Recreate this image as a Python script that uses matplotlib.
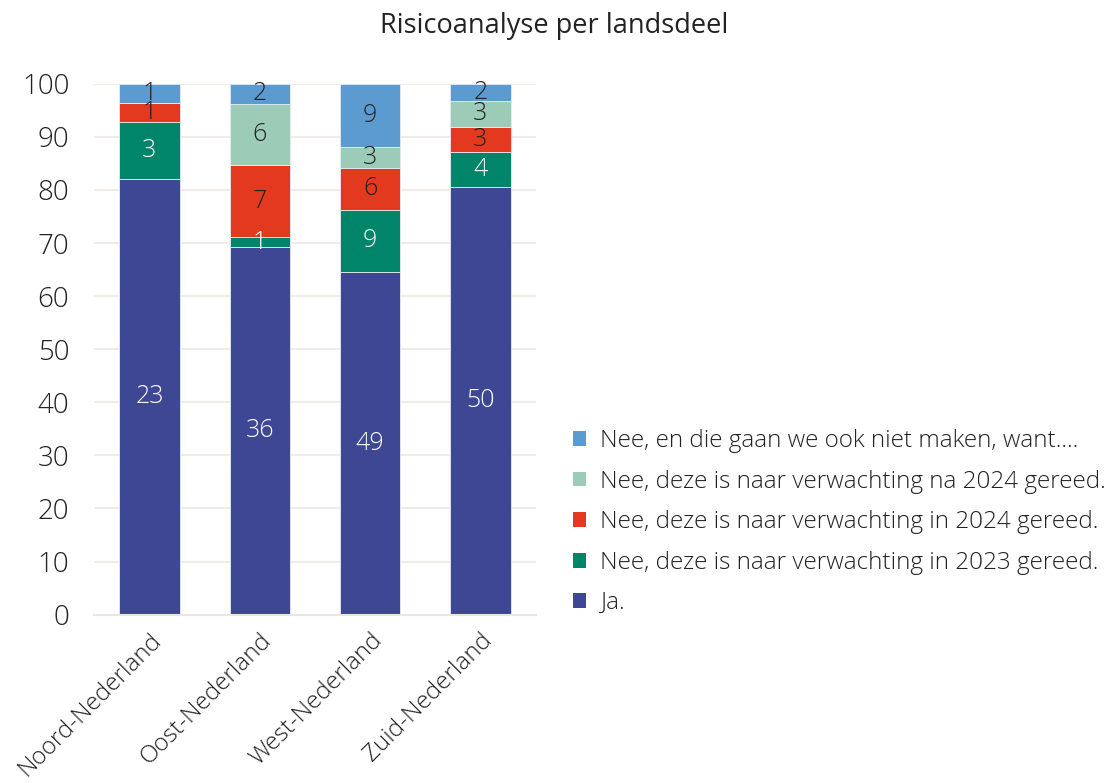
import matplotlib.pyplot as plt
from matplotlib.patches import Patch
import numpy as np

plt.rcParams['font.family'] = ['Open Sans', 'DejaVu Sans']
plt.rcParams['font.weight'] = 'light'

regions = ['Noord-Nederland', 'Oost-Nederland', 'West-Nederland', 'Zuid-Nederland']
series = [
    'Ja.',
    'Nee, deze is naar verwachting in 2023 gereed.',
    'Nee, deze is naar verwachting in 2024 gereed.',
    'Nee, deze is naar verwachting na 2024 gereed.',
    'Nee, en die gaan we ook niet maken, want....',
]
ja = [23, 36, 49, 50]
nee_2023 = [3, 1, 9, 4]
nee_2024 = [1, 7, 6, 3]
nee_na_2024 = [0, 6, 3, 3]
nee_nooit = [1, 2, 9, 2]

colors = ['#3d4794', '#00846a', '#e33a1f', '#9ccbb8', '#5b9bd0']
label_colors = ['white', 'white', '#222222', '#222222', '#222222']
text_color = '#222222'

counts = np.array([ja, nee_2023, nee_2024, nee_na_2024, nee_nooit], dtype=float)
pct = counts / counts.sum(axis=0) * 100

fig = plt.figure(figsize=(11.09, 7.83), dpi=100)
ax = fig.add_axes([0.085, 0.215, 0.398, 0.678])

x = np.arange(len(regions))
bottom = np.zeros(len(regions))
for i, name in enumerate(series):
    ax.bar(x, pct[i], 0.545, bottom=bottom, color=colors[i],
           edgecolor='#e8eaf2', linewidth=0.6, zorder=2)
    for j in range(len(regions)):
        if counts[i, j] > 0:
            ax.text(x[j], bottom[j] + pct[i, j] / 2, f'{int(counts[i, j])}',
                    ha='center', va='center', fontsize=18,
                    color=label_colors[i], zorder=3)
    bottom += pct[i]

ax.set_xlim(-0.5, 3.5)
ax.set_ylim(0, 100)
ax.set_yticks(range(0, 101, 10))
ax.yaxis.grid(True, color='#f0ede8', linewidth=1.5, zorder=0)
ax.set_axisbelow(True)
for s in ['top', 'right', 'left']:
    ax.spines[s].set_visible(False)
ax.spines['bottom'].set_color('#ece6e2')
ax.spines['bottom'].set_linewidth(1.5)
ax.tick_params(axis='y', length=0, labelsize=20, colors=text_color, pad=18)
ax.tick_params(axis='x', length=0, colors=text_color, pad=10)
ax.set_xticks(x)
ax.set_xticklabels(regions, rotation=45, ha='right', rotation_mode='anchor',
                   fontsize=17.5)

handles = [Patch(facecolor=colors[i], label=series[i]) for i in range(len(series))][::-1]
leg = fig.legend(handles=handles, loc='center left', bbox_to_anchor=(0.497, 0.333),
                 frameon=False, handlelength=0.55, handleheight=0.55,
                 handletextpad=0.55, labelspacing=0.68, prop={'size': 17.5})
for t in leg.get_texts():
    t.set_color(text_color)

fig.suptitle('Risicoanalyse per landsdeel', x=0.5, y=0.985, fontsize=19.5,
             color=text_color)

fig.savefig('out.png', dpi=100)
